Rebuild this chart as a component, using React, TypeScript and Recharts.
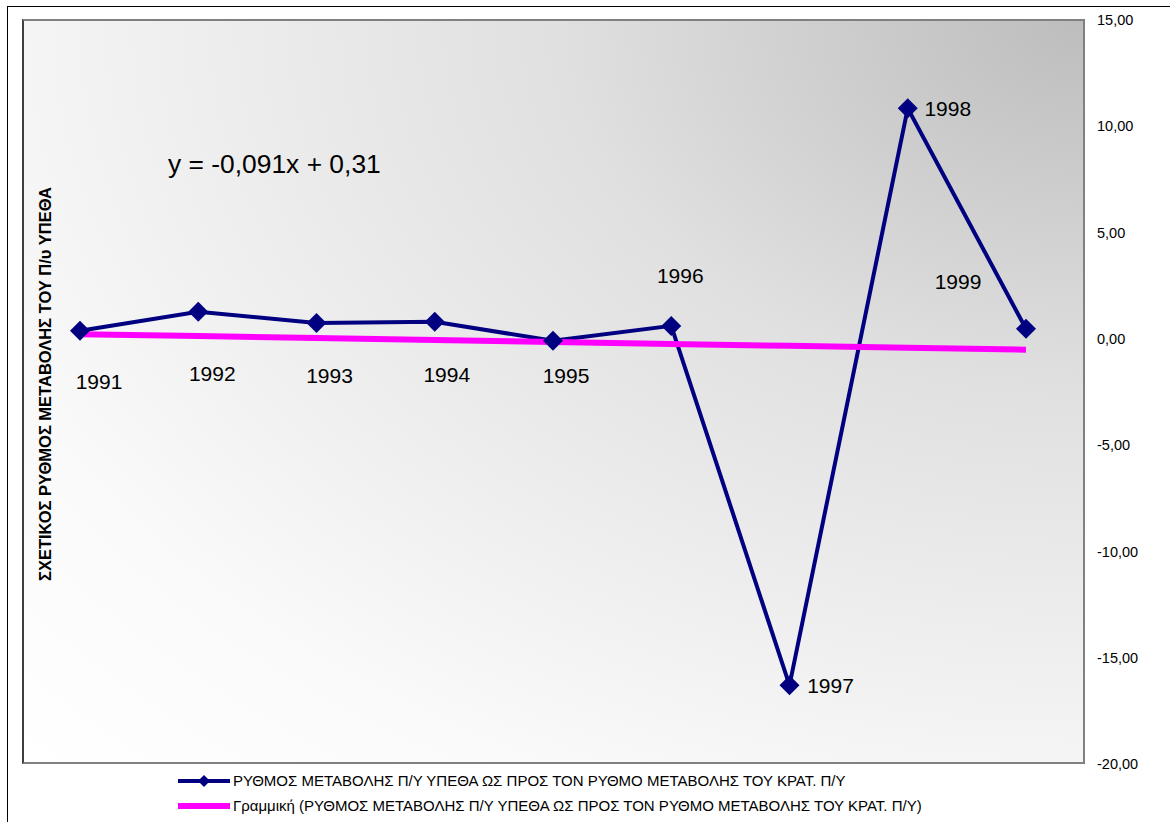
import React from 'react';
import { LineChart, Line, XAxis, YAxis, LabelList } from 'recharts';

const years = ['1991', '1992', '1993', '1994', '1995', '1996', '1997', '1998', '1999'];
const rateValues = [0.38, 1.27, 0.75, 0.8, -0.09, 0.61, -16.3, 10.85, 0.47];
const trendValues = [0.22, 0.13, 0.04, -0.05, -0.15, -0.24, -0.33, -0.42, -0.51];
const yTicks = [-20, -15, -10, -5, 0, 5, 10, 15];

const SERIES_NAME = 'ΡΥΘΜΟΣ ΜΕΤΑΒΟΛΗΣ Π/Υ ΥΠΕΘΑ ΩΣ ΠΡΟΣ ΤΟΝ ΡΥΘΜΟ ΜΕΤΑΒΟΛΗΣ ΤΟΥ ΚΡΑΤ. Π/Υ';
const TREND_NAME = 'Γραμμική (ΡΥΘΜΟΣ ΜΕΤΑΒΟΛΗΣ Π/Υ ΥΠΕΘΑ ΩΣ ΠΡΟΣ ΤΟΝ ΡΥΘΜΟ ΜΕΤΑΒΟΛΗΣ ΤΟΥ ΚΡΑΤ. Π/Υ)';
const EQUATION = 'y = -0,091x + 0,31';
const Y_TITLE = 'ΣΧΕΤΙΚΟΣ ΡΥΘΜΟΣ ΜΕΤΑΒΟΛΗΣ ΤΟΥ Π/υ ΥΠΕΘΑ';

// label placement relative to each point (layout only)
const labelOffsets: [number, number][] = [
  [19, 51], [14, 62], [13, 53], [12, 53], [13, 35], [9, -50], [41, 0], [40, 0], [-68, -47],
];

const data = years.map((year, i) => ({ year, rate: rateValues[i], trend: trendValues[i] }));

const FONT = 'Arial, "Liberation Sans", sans-serif';
const NAVY = '#000080';
const MAGENTA = '#FF00FF';

const Diamond = (props: any) => {
  const { cx, cy, size = 10 } = props;
  if (cx == null || cy == null) return null;
  return (
    <polygon
      points={`${cx},${cy - size} ${cx + size},${cy} ${cx},${cy + size} ${cx - size},${cy}`}
      fill={NAVY}
    />
  );
};

const YearLabel = (props: any) => {
  const { x, y, index, value } = props;
  const [dx, dy] = labelOffsets[index] || [0, 0];
  return (
    <text
      x={x + dx}
      y={y + dy}
      textAnchor="middle"
      dominantBaseline="central"
      fontSize={21}
      fontFamily={FONT}
      fill="#000"
    >
      {value}
    </text>
  );
};

const fmt = (v: number) => v.toFixed(2).replace('.', ',');

const App: React.FC = () => {
  return (
    <div style={{ position: 'absolute', left: 0, top: 0, width: 1170, height: 822, overflow: 'hidden', background: '#fff', fontFamily: FONT }}>
      <div style={{ position: 'absolute', left: 7, top: 6, width: 1300, height: 1000, borderTop: '1px solid #000', borderLeft: '1px solid #000' }} />
      <div
        style={{
          position: 'absolute',
          left: 22,
          top: 19,
          width: 1063,
          height: 745,
          boxSizing: 'border-box',
          border: '2px solid #808080',
          borderLeftColor: '#404040',
          background: 'radial-gradient(farthest-corner at 100% 0%, #bdbdbd 0%, #e0e0e0 35%, #fafafa 80%, #ffffff 100%)',
        }}
      />
      <div
        style={{
          position: 'absolute',
          left: 45,
          top: 384,
          transform: 'translate(-50%, -50%) rotate(-90deg)',
          whiteSpace: 'nowrap',
          fontSize: 16.5,
          fontWeight: 'bold',
        }}
      >
        {Y_TITLE}
      </div>
      <div style={{ position: 'absolute', left: 168, top: 149, fontSize: 26.4, whiteSpace: 'nowrap' }}>{EQUATION}</div>
      <LineChart
        width={1170}
        height={822}
        data={data}
        margin={{ top: 20, right: 5, bottom: 58, left: 22 }}
        style={{ position: 'absolute', left: 0, top: 0 }}
      >
        <XAxis dataKey="year" hide padding={{ left: 58, right: 59 }} />
        <YAxis
          orientation="right"
          width={80}
          domain={[-20, 15]}
          ticks={yTicks}
          tickFormatter={fmt}
          axisLine={false}
          tickLine={false}
          tickSize={0}
          tickMargin={12}
          tick={{ fontSize: 14.5, fill: '#000', fontFamily: FONT, textAnchor: 'start' }}
          allowDataOverflow
        />
        <Line
          type="linear"
          dataKey="rate"
          stroke={NAVY}
          strokeWidth={4}
          dot={<Diamond />}
          activeDot={false}
          isAnimationActive={false}
        >
          <LabelList dataKey="year" content={<YearLabel />} />
        </Line>
        <Line
          type="linear"
          dataKey="trend"
          stroke={MAGENTA}
          strokeWidth={6}
          dot={false}
          activeDot={false}
          isAnimationActive={false}
        />
      </LineChart>
      <div style={{ position: 'absolute', left: 178, top: 768, fontSize: 15, lineHeight: '25px' }}>
        <div style={{ display: 'flex', alignItems: 'center', whiteSpace: 'nowrap' }}>
          <svg width={54} height={20} style={{ marginRight: 1 }}>
            <line x1={0} y1={10} x2={52} y2={10} stroke={NAVY} strokeWidth={4} />
            <polygon points="26,4 32,10 26,16 20,10" fill={NAVY} />
          </svg>
          <span>{SERIES_NAME}</span>
        </div>
        <div style={{ display: 'flex', alignItems: 'center', whiteSpace: 'nowrap' }}>
          <svg width={54} height={20} style={{ marginRight: 1 }}>
            <line x1={0} y1={10} x2={52} y2={10} stroke={MAGENTA} strokeWidth={6} />
          </svg>
          <span>{TREND_NAME}</span>
        </div>
      </div>
    </div>
  );
};

export default App;
